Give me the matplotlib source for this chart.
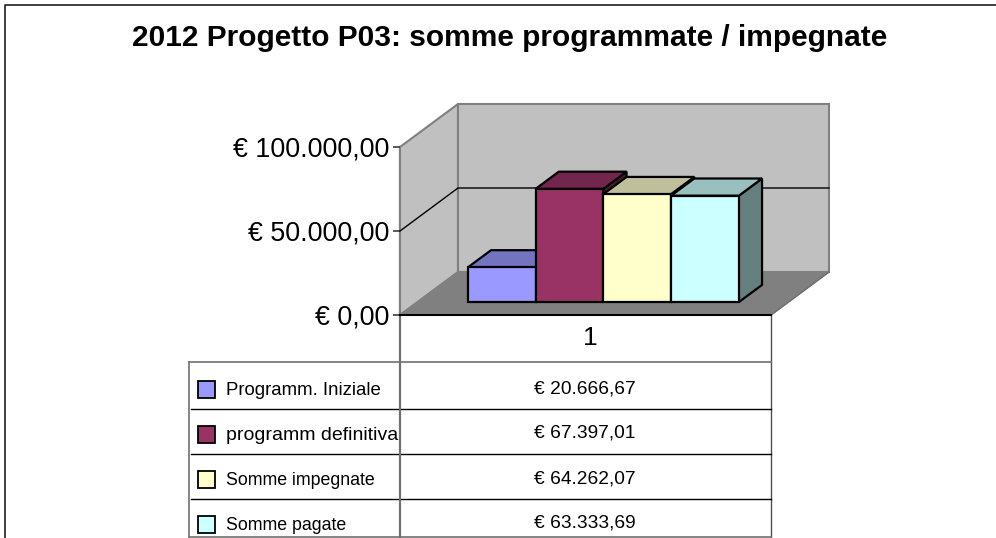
import matplotlib
matplotlib.use("Agg")
import matplotlib.pyplot as plt
from matplotlib.patches import Polygon, Rectangle

plt.rcParams['font.family'] = ['Liberation Sans', 'DejaVu Sans']

title = "2012 Progetto P03: somme programmate / impegnate"
series = ["Programm. Iniziale", "programm definitiva", "Somme impegnate", "Somme pagate"]
values = [20666.67, 67397.01, 64262.07, 63333.69]
value_labels = ["€ 20.666,67", "€ 67.397,01", "€ 64.262,07", "€ 63.333,69"]
front = ["#9999FF", "#993366", "#FFFFCC", "#CCFFFF"]
top = ["#7373BF", "#73264D", "#BFBF99", "#99BFBF"]
side = ["#4D4D80", "#4D1A33", "#808066", "#668080"]
yticks = [0, 50000, 100000]
ytick_labels = ["€ 0,00", "€ 50.000,00", "€ 100.000,00"]
category = "1"
legend_sizes = [13.4, 14, 12.8, 12.8]

W, H = 996, 538
fig = plt.figure(figsize=(W / 100, H / 100), dpi=100)

# overlay in pixels for the frame and the table
bg = fig.add_axes([0, 0, 1, 1])
bg.set_xlim(0, W)
bg.set_ylim(H, 0)
bg.axis("off")

# main axes = front plane of the 3d box
left, right, y0, y1 = 400, 771, 315, 147
ax = fig.add_axes([left / W, 1 - y0 / H, (right - left) / W, (y0 - y1) / H])
ax.set_xlim(0, 1)
ax.set_ylim(0, 100000)
ax.patch.set_visible(False)
for s in ["top", "right", "bottom", "left"]:
    ax.spines[s].set_visible(False)
ax.set_xticks([])
ax.set_yticks(yticks)
ax.set_yticklabels(ytick_labels, fontsize=19.4)
ax.tick_params(axis="y", length=5, width=1.2, color="#404040", pad=3)

# depth of the box in data units
ddx = 58 / (right - left)
ddy = 43 / (y0 - y1) * 100000


def proj(x, y, d):
    return (x + d * ddx, y + d * ddy)


def poly(pts, fc, ec, lw, z):
    ax.add_patch(Polygon(pts, closed=True, fc=fc, ec=ec, lw=lw, zorder=z, clip_on=False,
                         joinstyle="miter"))


# walls and floor
poly([proj(0, 0, 0), proj(0, 100000, 0), proj(0, 100000, 1), proj(0, 0, 1)], "#C0C0C0", "#808080", 1.5, 1)
poly([proj(0, 0, 1), proj(0, 100000, 1), proj(1, 100000, 1), proj(1, 0, 1)], "#C0C0C0", "#808080", 1.5, 1)
poly([proj(0, 0, 0), proj(1, 0, 0), proj(1, 0, 1), proj(0, 0, 1)], "#808080", "#808080", 1, 2)
ax.plot([1, 1 + ddx], [0, ddy], color="#707070", lw=1, zorder=2, clip_on=False)

# gridline
ax.plot([proj(0, 50000, 0)[0], proj(0, 50000, 1)[0], proj(1, 50000, 1)[0]],
        [proj(0, 50000, 0)[1], proj(0, 50000, 1)[1], proj(1, 50000, 1)[1]],
        color="black", lw=1, zorder=2, clip_on=False)
ax.plot([0, 1], [0, 0], color="black", lw=1.5, zorder=3, clip_on=False)

# bars
bw = 0.1826
x_start = 0.136
d0, d1 = 0.30, 0.70
for i, v in enumerate(values):
    a = x_start + i * bw
    b = a + bw
    z = 4 + i
    poly([proj(b, 0, d0), proj(b, v, d0), proj(b, v, d1), proj(b, 0, d1)], side[i], "black", 1.6, z)
    poly([proj(a, v, d0), proj(b, v, d0), proj(b, v, d1), proj(a, v, d1)], top[i], "black", 1.6, z)
    poly([proj(a, 0, d0), proj(b, 0, d0), proj(b, v, d0), proj(a, v, d0)], front[i], "black", 1.6, z)

# left axis line, runs down through the table
bg.plot([400, 400], [147, 538], color="#707070", lw=1.6, zorder=5)

# outer border, no line on the right
bg.plot([5, 5, 996], [538, 5, 5], color="#202020", lw=1.2)

fig.text(510 / W, 1 - 38 / H, title, fontsize=21.5, fontweight="bold", ha="center", va="center")

# data table
rows = [362, 409, 454, 499, 537]
tx0, tx1 = 189, 771
bg.plot([771, 771], [315, 537], color="#505050", lw=1)
bg.plot([tx0, tx0], [362, 537], color="#707070", lw=1.2)
for n, r in enumerate(rows):
    if n == 0 or n == 4:
        bg.plot([tx0, tx1], [r, r], color="#707070", lw=1.2)
    else:
        bg.plot([tx0 + 2, tx1], [r, r], color="black", lw=1)
bg.text(590, 338, category, fontsize=19, ha="center", va="center")
for i, name in enumerate(series):
    base = 397 + 45 * i
    bg.add_patch(Rectangle((197.5, base - 16), 17, 17, fc=front[i], ec="black", lw=1.3))
    bg.text(226, base - 2, name, fontsize=legend_sizes[i], ha="left", va="baseline")
    bg.text(585, base - 4, value_labels[i], fontsize=13.8, ha="center", va="baseline")

fig.savefig("out.png", dpi=100)
